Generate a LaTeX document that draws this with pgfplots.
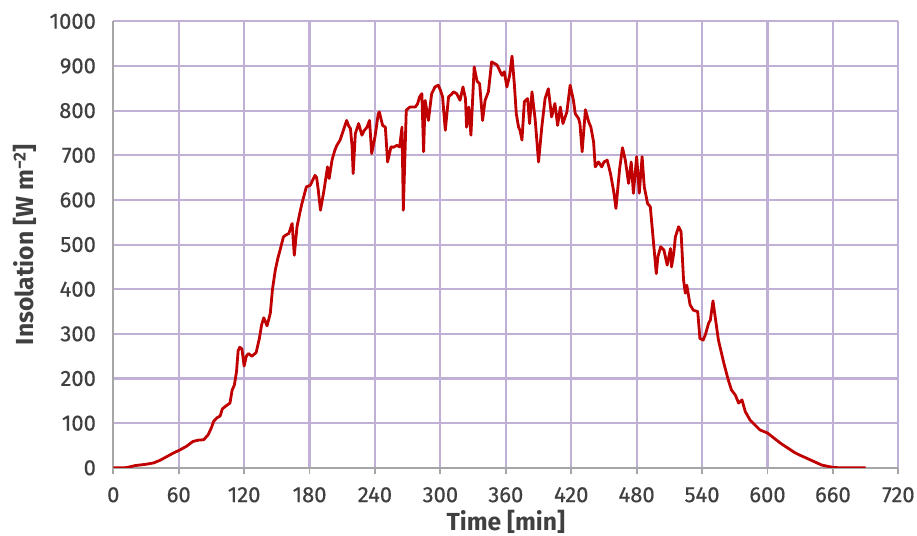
\documentclass[border=0pt]{standalone}
\usepackage{pgfplots}
\pgfplotsset{compat=1.18}
\usepackage{fontspec}
\setmainfont{Fira Sans}
\newfontfamily\tickfont[FakeBold=0.5]{Fira Sans}
\definecolor{gridlav}{RGB}{192,176,214}
\definecolor{axgray}{RGB}{166,166,166}
\definecolor{txtgray}{RGB}{64,64,64}
\definecolor{linered}{RGB}{192,0,0}
\begin{document}
\begin{tikzpicture}
\begin{axis}[
  scale only axis,
  width=589pt, height=335pt,
  xmin=0, xmax=720, ymin=0, ymax=1000,
  xtick={0,60,...,720}, ytick={0,100,...,1000},
  axis x line*=bottom, axis y line*=left,
  axis line style={draw=axgray, line width=1.4pt, -},
  grid=major,
  major grid style={draw=gridlav, line width=1.6pt},
  xtick align=outside, major tick length=5pt,
  xtick style={draw=axgray, line width=1.4pt},
  ytick style={draw=none},
  tick label style={font=\tickfont\fontsize{16.5}{19}\selectfont, text=txtgray},
  /pgf/number format/assume math mode=true,
  /pgf/number format/1000 sep={},
  yticklabel style={xshift=-9.5pt},
  xticklabel style={yshift=-6pt},
  xlabel={Time [min]}, ylabel={Insolation [W m\textsuperscript{−2}]},
  label style={font=\fontsize{18.5}{21}\selectfont\bfseries, text=txtgray},
  xlabel style={at={(axis description cs:0.5,-0.122)}, anchor=center},
  ylabel style={at={(axis description cs:-0.112,0.5)}, anchor=center},
]
\addplot[linered, line width=2.1pt, line join=round] coordinates {
(0,0) (10,0) (13,1) (20,5) (30,8) (37,11) (43,17) (49,25) (55,33) (61,40)
(67,48) (73,59) (78,62) (83,63) (87,74) (90,90) (92,104) (95,112) (98,116) (100,132)
(103,138) (107,145) (109,174) (111,185) (113,215) (114.5,262) (116,270) (118,266) (120,228) (122,250)
(124,256) (127,250) (131,258) (134,290) (136,320) (138,336) (141,318) (144,346) (146,400) (148.6,443)
(151,470) (153,488) (156,517) (158,521) (161,525) (164,547) (166,476) (168.5,540) (171,570) (173,592)
(175,610) (177,629) (180.7,633) (183,645) (185,655) (186.5,650) (188,622) (190,577) (193,618) (196.5,674)
(198,648) (200.6,689) (203,710) (205,722) (208,734) (211,756) (214,778) (216,765) (217.5,760) (219,720)
(220,659) (222,749) (225,771) (228,745) (230,755) (232.7,763) (235,778) (237,704) (240,741) (243,793)
(244,797) (247,767) (249.5,763) (251.6,685) (254.7,719) (257,718) (260,722) (262.6,719) (264.8,763) (266,577)
(268.7,801) (272,808) (277,808) (279,815) (281,831) (283,838) (284.6,708) (286,823) (289,778) (292,838)
(295,853) (298,857) (300,846) (302,831) (304.5,756) (307.5,831) (310,836) (312,842) (315,838) (318,823)
(320.7,853) (323,827) (324,763) (326,808) (328,745) (331,898) (333.6,866) (336,860) (338.7,778) (341,823)
(344,842) (347,909) (350,905) (352,902) (356.5,879) (358.6,887) (361,853) (363.5,879) (365.7,922) (367.8,860)
(369.6,793) (371.7,763) (373,756) (374.8,734) (377,820) (380,827) (381.8,771) (384,842) (387,778) (390,685)
(393,763) (396,827) (399,849) (402,786) (405,816) (407.5,767) (410,808) (412.4,771) (416,797) (419,857)
(422,823) (423.7,793) (426.8,782) (428,770) (430,708) (433,802) (436,775) (438,763) (440.5,730) (442,674)
(445,685) (448,674) (450,685) (453,689) (456,659) (459,618) (461,581) (464.4,670) (467,717) (469.6,689)
(472.6,637) (475,685) (477,615) (480,697) (482.4,615) (485,697) (487,629) (490,592) (492.5,585) (495,517)
(498,435) (499.5,473) (502,495) (505,488) (508,454) (511,491) (512,450) (514,480) (515.5,517) (518.5,540)
(520.7,529) (523,421) (524.6,391) (526,409) (529,365) (532,353) (536,350) (538,290) (541,286) (543,298)
(546,324) (547.6,331) (550,374) (552,338) (555,286) (560,234) (564,197) (567,174) (570.5,163) (573.5,145)
(576.6,152) (579.6,126) (584,107) (593,85) (600,78) (612,55) (625,34) (630,28) (640,17) (650,6)
(660,1) (667,0) (690,0)
};
\end{axis}
\pgfresetboundingbox
\path (-85pt,-51pt) rectangle (603pt,351pt);
\end{tikzpicture}
\end{document}
